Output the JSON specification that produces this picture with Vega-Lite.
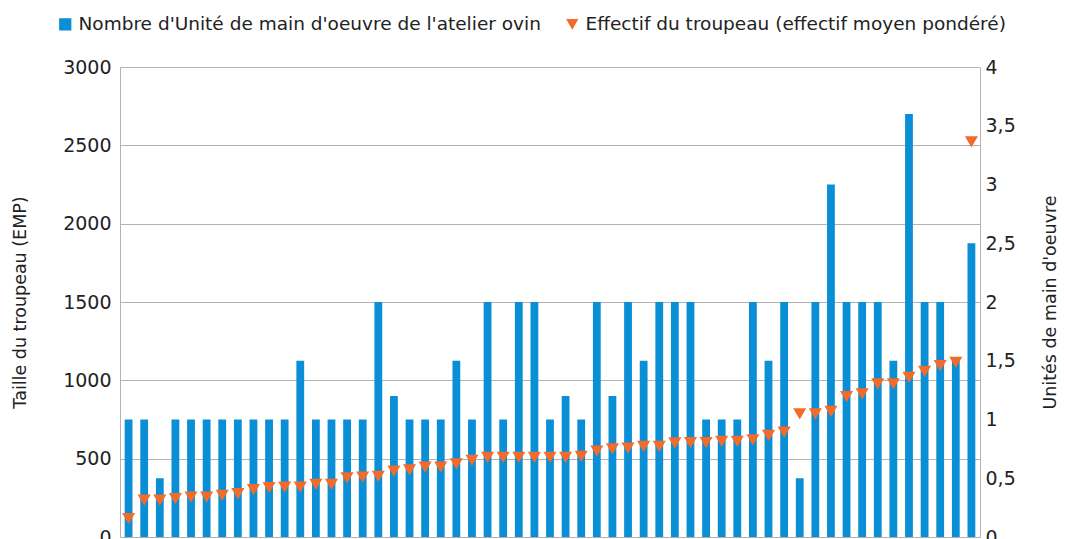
{
  "$schema": "https://vega.github.io/schema/vega-lite/v6.json",
  "autosize": "none",
  "width": 860,
  "height": 470,
  "padding": {"left": 120, "top": 67, "right": 86, "bottom": 2},
  "config": {
    "font": "DejaVu Sans",
    "view": {"stroke": null},
    "axis": {"labelFont": "DejaVu Sans", "titleFont": "DejaVu Sans", "labelColor": "#222", "titleColor": "#222", "titleFontWeight": "normal", "domainColor": "#b3b3b3", "gridColor": "#b3b3b3", "ticks": false}
  },
  "data": {"values": [
    {"i": 1, "uth": 1, "emp": 117},
    {"i": 2, "uth": 1, "emp": 236},
    {"i": 3, "uth": 0.5, "emp": 236},
    {"i": 4, "uth": 1, "emp": 245},
    {"i": 5, "uth": 1, "emp": 255},
    {"i": 6, "uth": 1, "emp": 255},
    {"i": 7, "uth": 1, "emp": 266},
    {"i": 8, "uth": 1, "emp": 276},
    {"i": 9, "uth": 1, "emp": 302},
    {"i": 10, "uth": 1, "emp": 315},
    {"i": 11, "uth": 1, "emp": 318},
    {"i": 12, "uth": 1.5, "emp": 318},
    {"i": 13, "uth": 1, "emp": 336},
    {"i": 14, "uth": 1, "emp": 336},
    {"i": 15, "uth": 1, "emp": 378},
    {"i": 16, "uth": 1, "emp": 382},
    {"i": 17, "uth": 2, "emp": 387},
    {"i": 18, "uth": 1.2, "emp": 420},
    {"i": 19, "uth": 1, "emp": 429},
    {"i": 20, "uth": 1, "emp": 446},
    {"i": 21, "uth": 1, "emp": 446},
    {"i": 22, "uth": 1.5, "emp": 467},
    {"i": 23, "uth": 1, "emp": 489},
    {"i": 24, "uth": 2, "emp": 508},
    {"i": 25, "uth": 1, "emp": 508},
    {"i": 26, "uth": 2, "emp": 508},
    {"i": 27, "uth": 2, "emp": 508},
    {"i": 28, "uth": 1, "emp": 508},
    {"i": 29, "uth": 1.2, "emp": 508},
    {"i": 30, "uth": 1, "emp": 514},
    {"i": 31, "uth": 2, "emp": 548},
    {"i": 32, "uth": 1.2, "emp": 563},
    {"i": 33, "uth": 2, "emp": 567},
    {"i": 34, "uth": 1.5, "emp": 578},
    {"i": 35, "uth": 2, "emp": 578},
    {"i": 36, "uth": 2, "emp": 600},
    {"i": 37, "uth": 2, "emp": 602},
    {"i": 38, "uth": 1, "emp": 602},
    {"i": 39, "uth": 1, "emp": 610},
    {"i": 40, "uth": 1, "emp": 610},
    {"i": 41, "uth": 2, "emp": 620},
    {"i": 42, "uth": 1.5, "emp": 648},
    {"i": 43, "uth": 2, "emp": 669},
    {"i": 44, "uth": 0.5, "emp": 786},
    {"i": 45, "uth": 2, "emp": 786},
    {"i": 46, "uth": 3, "emp": 801},
    {"i": 47, "uth": 2, "emp": 896},
    {"i": 48, "uth": 2, "emp": 913},
    {"i": 49, "uth": 2, "emp": 977},
    {"i": 50, "uth": 1.5, "emp": 977},
    {"i": 51, "uth": 3.6, "emp": 1019},
    {"i": 52, "uth": 2, "emp": 1057},
    {"i": 53, "uth": 2, "emp": 1094},
    {"i": 54, "uth": 1.5, "emp": 1115},
    {"i": 55, "uth": 2.5, "emp": 2522}
  ]},
  "encoding": {
    "x": {"field": "i", "type": "ordinal", "axis": null, "scale": {"paddingInner": 0.5, "paddingOuter": 0.3}}
  },
  "layer": [
    {
      "mark": {"type": "bar"},
      "encoding": {
        "y": {"field": "uth", "type": "quantitative", "scale": {"domain": [0, 4], "nice": false},
          "axis": {"orient": "right", "title": "Unités de main d'oeuvre", "titleAngle": 270, "titleFontSize": 17.5, "labelFontSize": 19, "values": [0, 0.5, 1, 1.5, 2, 2.5, 3, 3.5, 4], "labelExpr": "replace(toString(datum.value), '.', ',')", "grid": false, "labelPadding": 5, "titlePadding": 44, "labelAlign": "left"}},
        "color": {"datum": "Nombre d'Unité de main d'oeuvre de l'atelier ovin", "type": "nominal",
          "scale": {"domain": ["Nombre d'Unité de main d'oeuvre de l'atelier ovin", "Effectif du troupeau (effectif moyen pondéré)"], "range": ["#0A8FD6", "#F26B2A"]},
          "legend": {"orient": "none", "legendX": -64, "legendY": -52, "direction": "horizontal", "title": null, "labelFontSize": 18.5, "labelLimit": 0, "labelColor": "#222", "symbolSize": 150, "symbolStrokeWidth": 0, "columnPadding": 22, "labelOffset": 4,
            "encode": {"symbols": {"update": {"shape": {"signal": "indexof(datum.value, 'Effectif') === 0 ? 'triangle-down' : 'square'"}}}}}}
      }
    },
    {
      "mark": {"type": "point", "shape": "triangle-down", "filled": true, "opacity": 1, "size": 170},
      "encoding": {
        "y": {"field": "emp", "type": "quantitative", "scale": {"domain": [0, 3000], "nice": false},
          "axis": {"orient": "left", "title": "Taille du troupeau (EMP)", "titleFontSize": 17.5, "labelFontSize": 19, "format": "d", "values": [0, 500, 1000, 1500, 2000, 2500, 3000], "grid": true, "labelPadding": 9, "titlePadding": 33}},
        "color": {"datum": "Effectif du troupeau (effectif moyen pondéré)", "type": "nominal"}
      }
    }
  ],
  "resolve": {"scale": {"y": "independent"}}
}
